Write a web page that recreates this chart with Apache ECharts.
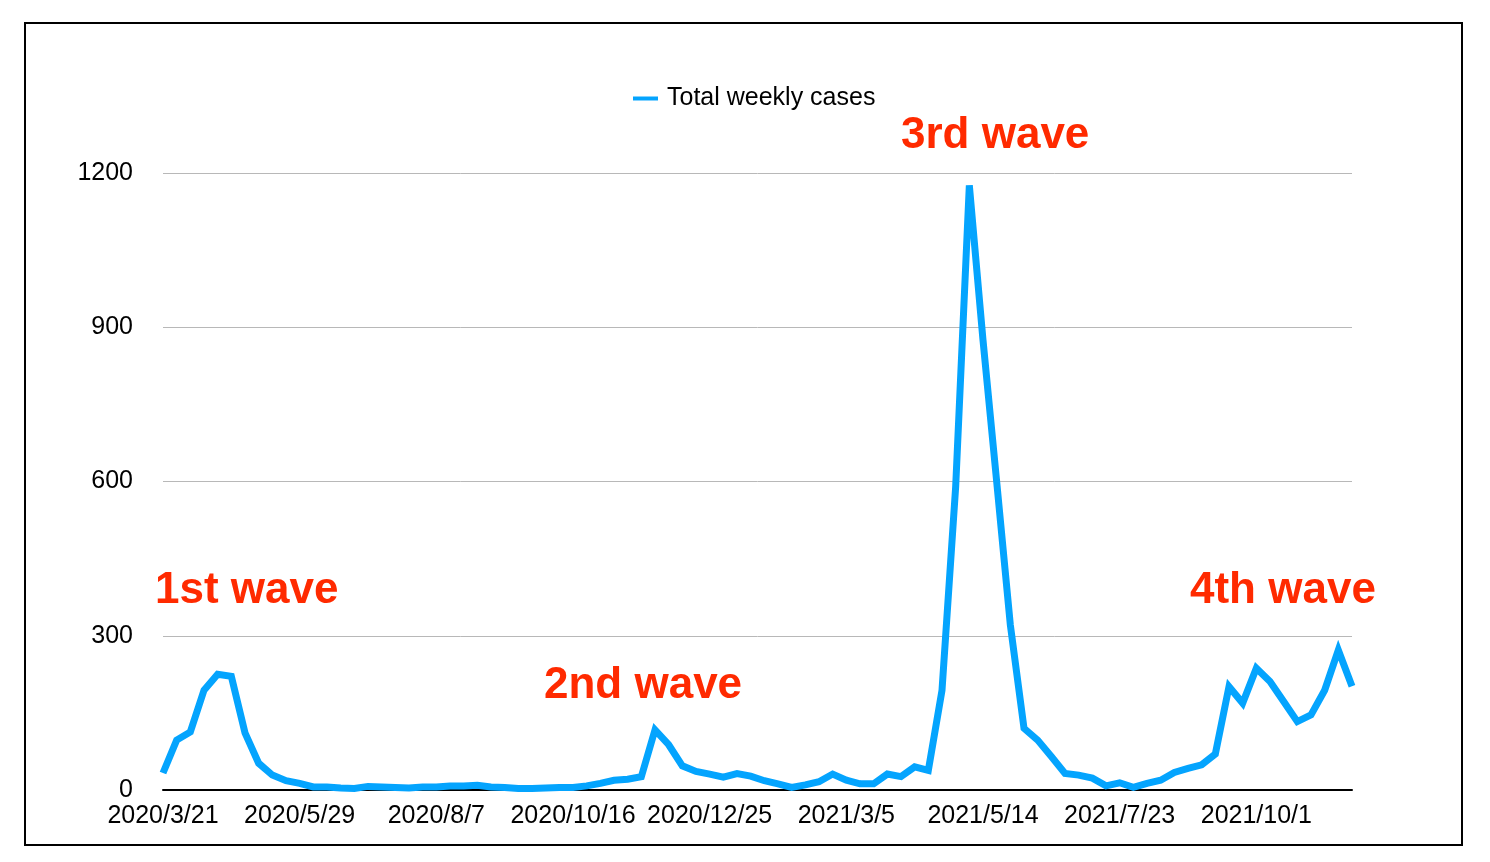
<!DOCTYPE html>
<html>
<head>
<meta charset="utf-8">
<script src="https://cdn.jsdelivr.net/npm/echarts@6/dist/echarts.min.js"></script>
<style>
  html, body { margin: 0; padding: 0; background: #fff; }
  #chart { width: 1490px; height: 862px; }
</style>
</head>
<body>
<div id="chart"></div>
<script>
const weeks = [
  "2020/3/21", "2020/3/27", "2020/4/3", "2020/4/10", "2020/4/17", "2020/4/24", "2020/5/1", "2020/5/8", "2020/5/15", "2020/5/22",
  "2020/5/29", "2020/6/5", "2020/6/12", "2020/6/19", "2020/6/26", "2020/7/3", "2020/7/10", "2020/7/17", "2020/7/24", "2020/7/31",
  "2020/8/7", "2020/8/14", "2020/8/21", "2020/8/28", "2020/9/4", "2020/9/11", "2020/9/18", "2020/9/25", "2020/10/2", "2020/10/9",
  "2020/10/16", "2020/10/23", "2020/10/30", "2020/11/6", "2020/11/13", "2020/11/20", "2020/11/27", "2020/12/4", "2020/12/11", "2020/12/18",
  "2020/12/25", "2021/1/1", "2021/1/8", "2021/1/15", "2021/1/22", "2021/1/29", "2021/2/5", "2021/2/12", "2021/2/19", "2021/2/26",
  "2021/3/5", "2021/3/12", "2021/3/19", "2021/3/26", "2021/4/2", "2021/4/9", "2021/4/16", "2021/4/23", "2021/4/30", "2021/5/7",
  "2021/5/14", "2021/5/21", "2021/5/28", "2021/6/4", "2021/6/11", "2021/6/18", "2021/6/25", "2021/7/2", "2021/7/9", "2021/7/16",
  "2021/7/23", "2021/7/30", "2021/8/6", "2021/8/13", "2021/8/20", "2021/8/27", "2021/9/3", "2021/9/10", "2021/9/17", "2021/9/24",
  "2021/10/1", "2021/10/8", "2021/10/15", "2021/10/22", "2021/10/29", "2021/11/5", "2021/11/12", "2021/11/19"
];

const weeklyCases = [
  33, 97, 113, 194, 225, 221, 111, 52, 29, 18,
  13, 6, 6, 4, 3, 7, 6, 5, 4, 6,
  6, 8, 8, 9, 6, 5, 3, 3, 4, 5,
  5, 8, 13, 19, 21, 26, 117, 88, 47, 36,
  31, 25, 32, 27, 18, 12, 5, 10, 16, 31,
  19, 12, 12, 31, 26, 45, 38, 194, 590, 1176,
  875, 600, 321, 120, 97, 65, 32, 29, 23, 8,
  14, 5, 13, 19, 34, 42, 49, 70, 201, 169,
  237, 211, 172, 133, 146, 194, 272, 202
];

const yTicks = [0, 300, 600, 900, 1200];

const waveLabels = ["1st wave", "2nd wave", "3rd wave", "4th wave"];

const FONT = "'Liberation Sans', Arial, Helvetica, sans-serif";
const RED = "#ff2a00";

const chart = echarts.init(document.getElementById("chart"));

// where the red wave notes sit on the page
const wavePos = [
  { x: 155, y: 593 },
  { x: 544, y: 688 },
  { x: 901, y: 138 },
  { x: 1190, y: 593 },
];

const option = {
  backgroundColor: "#fff",
  animation: false,
  textStyle: { fontFamily: FONT },
  legend: {
    left: 628,
    top: 81,
    icon: "rect",
    itemWidth: 25,
    itemHeight: 4,
    itemGap: 10,
    textStyle: { color: "#000", fontSize: 25, fontFamily: FONT, padding: [0, 0, 0, 4] },
    data: ["Total weekly cases"],
  },
  grid: {
    left: 163,
    right: 138,
    top: 173,
    bottom: 72,
    containLabel: false,
  },
  xAxis: {
    type: "category",
    data: weeks,
    boundaryGap: false,
    axisLine: { show: true, lineStyle: { color: "#000", width: 2 } },
    axisTick: { show: false },
    axisLabel: {
      interval: (i) => i % 10 === 0,
      color: "#000",
      fontSize: 25,
      fontFamily: FONT,
      margin: 14,
    },
    splitLine: { show: false },
  },
  yAxis: {
    type: "value",
    min: yTicks[0],
    max: yTicks[yTicks.length - 1],
    interval: 300,
    axisLine: { show: false },
    axisTick: { show: false },
    axisLabel: {
      color: "#000",
      fontSize: 25,
      fontFamily: FONT,
      margin: 30,
      formatter: (v) => String(v),
    },
    splitLine: { lineStyle: { color: "#b8b8b8", width: 1 } },
  },
  series: [
    {
      name: "Total weekly cases",
      type: "line",
      data: weeklyCases,
      symbol: "none",
      color: "#04a4fe",
      lineStyle: { color: "#04a4fe", width: 7, join: "miter" },
    },
  ],
  graphic: [
    {
      type: "rect",
      shape: { x: 25, y: 23, width: 1437, height: 822 },
      style: { fill: "none", stroke: "#000", lineWidth: 2 },
      silent: true,
    },
  ].concat(
    waveLabels.map((t, i) => ({
      type: "text",
      left: wavePos[i].x,
      top: wavePos[i].y - 24,
      style: {
        text: t,
        fill: RED,
        font: "bold 44px " + FONT,
      },
      silent: true,
    }))
  ),
};

chart.setOption(option);
</script>
</body>
</html>
